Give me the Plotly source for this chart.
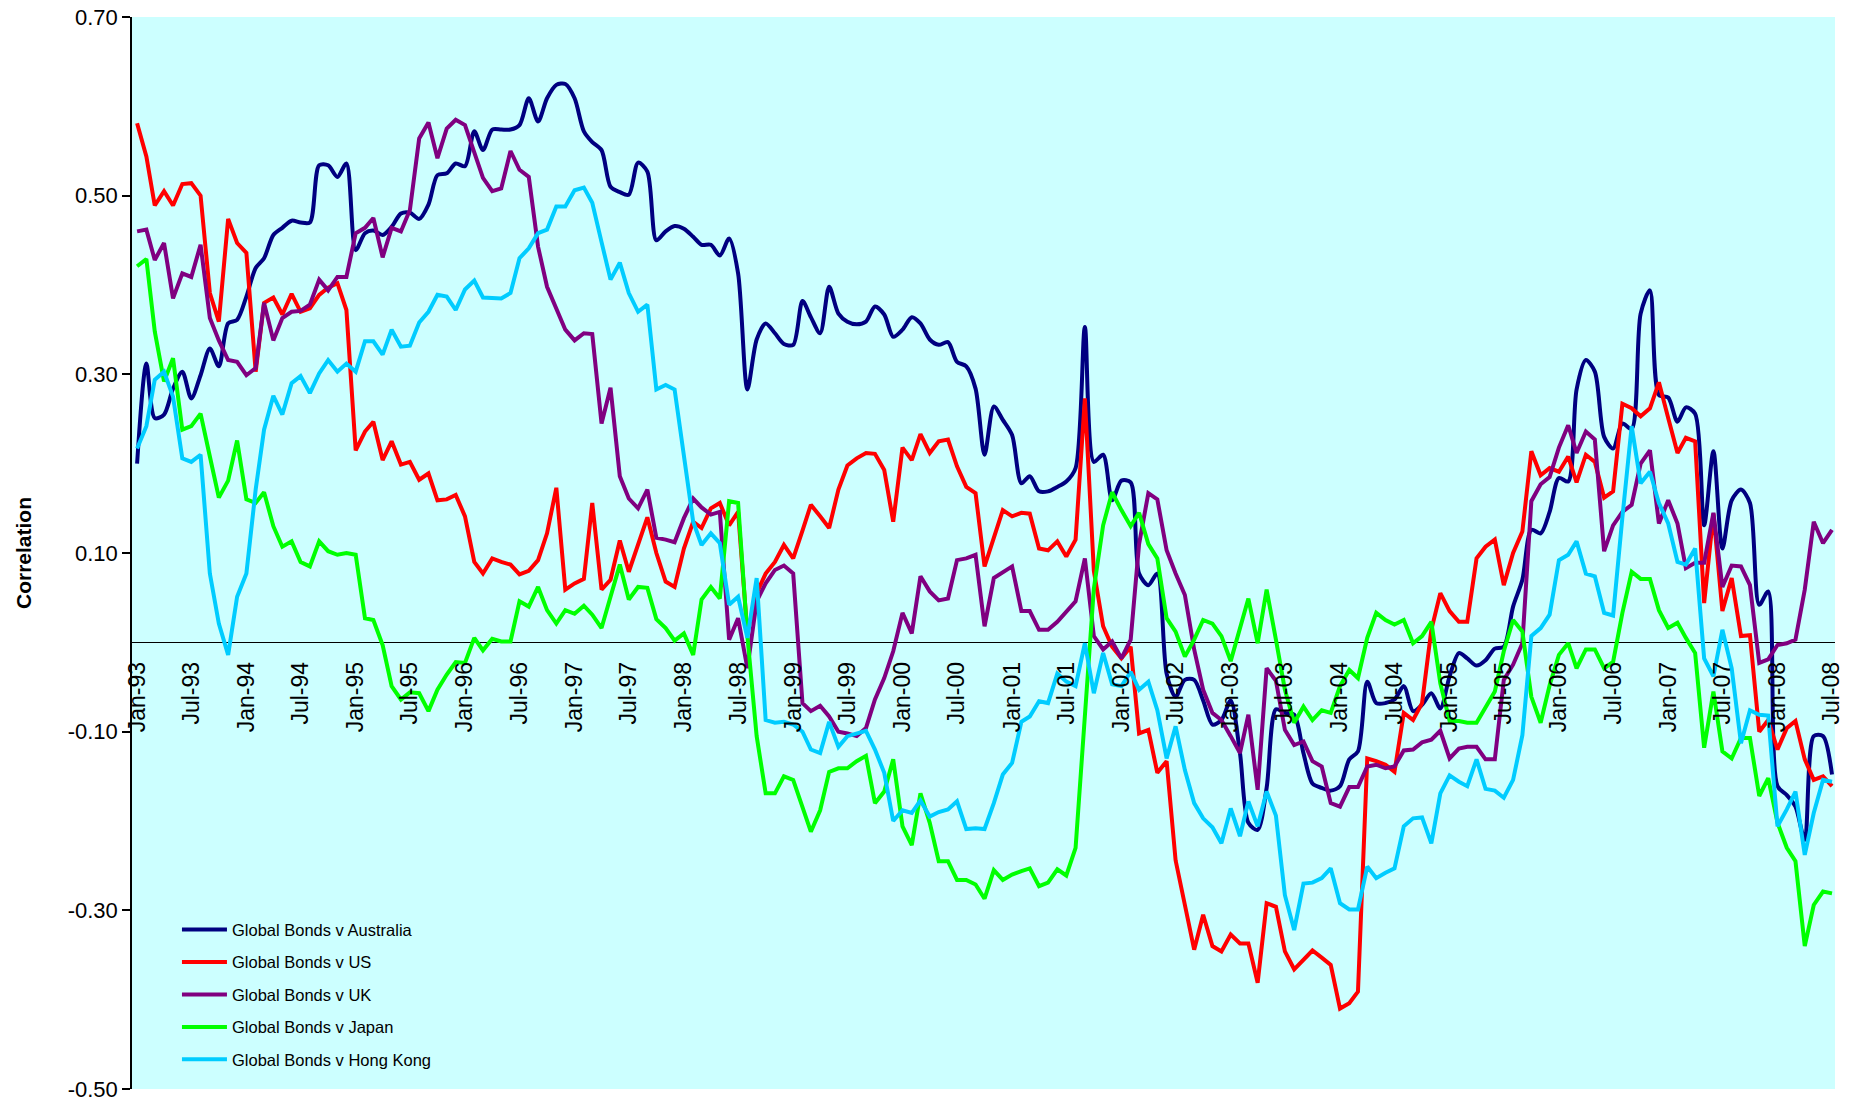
import pandas as pd
import plotly.graph_objects as go

# Monthly observations, Jan-1993 .. Jul-2008
months = pd.date_range("1993-01-01", "2008-07-01", freq="MS")

australia = [
    0.200, 0.312, 0.251, 0.255, 0.284, 0.303, 0.273, 0.299, 0.329, 0.309,
    0.357, 0.361, 0.387, 0.419, 0.430, 0.456, 0.464, 0.472, 0.470, 0.470,
    0.534, 0.534, 0.521, 0.536, 0.439, 0.458, 0.461, 0.456, 0.465, 0.480,
    0.481, 0.474, 0.490, 0.523, 0.525, 0.536, 0.533, 0.572, 0.551, 0.574,
    0.574, 0.574, 0.579, 0.609, 0.583, 0.609, 0.624, 0.625, 0.609, 0.572,
    0.560, 0.551, 0.510, 0.504, 0.501, 0.537, 0.527, 0.450, 0.460, 0.466,
    0.463, 0.454, 0.445, 0.445, 0.433, 0.452, 0.413, 0.283, 0.339, 0.357,
    0.346, 0.334, 0.333, 0.382, 0.364, 0.346, 0.398, 0.368, 0.359, 0.356,
    0.359, 0.376, 0.367, 0.342, 0.350, 0.364, 0.357, 0.339, 0.333, 0.336,
    0.314, 0.309, 0.284, 0.210, 0.264, 0.249, 0.232, 0.178, 0.186, 0.169,
    0.169, 0.174, 0.180, 0.195, 0.353, 0.202, 0.210, 0.159, 0.181, 0.179,
    0.077, 0.064, 0.077, -0.035, -0.061, -0.042, -0.042, -0.065, -0.092, -0.087,
    -0.065, -0.124, -0.202, -0.210, -0.163, -0.075, -0.079, -0.081, -0.124, -0.158,
    -0.163, -0.166, -0.161, -0.131, -0.122, -0.044, -0.068, -0.068, -0.064, -0.049,
    -0.077, -0.070, -0.057, -0.074, -0.038, -0.012, -0.018, -0.026, -0.020, -0.007,
    -0.005, 0.040, 0.070, 0.126, 0.122, 0.146, 0.184, 0.180, 0.283, 0.316,
    0.303, 0.230, 0.217, 0.245, 0.239, 0.368, 0.394, 0.277, 0.274, 0.247,
    0.263, 0.256, 0.131, 0.214, 0.105, 0.159, 0.171, 0.156, 0.042, 0.057,
    -0.161, -0.171, -0.184, -0.221, -0.105, -0.105, -0.148,
]

us = [
    0.581, 0.544, 0.489, 0.505, 0.489, 0.513, 0.514, 0.500, 0.391, 0.359,
    0.474, 0.447, 0.436, 0.303, 0.380, 0.386, 0.367, 0.390, 0.370, 0.374,
    0.389, 0.397, 0.402, 0.372, 0.215, 0.236, 0.247, 0.204, 0.225, 0.199,
    0.202, 0.182, 0.189, 0.159, 0.160, 0.165, 0.141, 0.090, 0.077, 0.094,
    0.090, 0.087, 0.076, 0.080, 0.092, 0.122, 0.173, 0.059, 0.066, 0.071,
    0.156, 0.059, 0.070, 0.114, 0.079, 0.110, 0.140, 0.100, 0.068, 0.062,
    0.105, 0.135, 0.128, 0.150, 0.156, 0.131, 0.146, 0.010, 0.055, 0.077,
    0.090, 0.109, 0.094, 0.125, 0.154, 0.141, 0.128, 0.171, 0.198, 0.206,
    0.212, 0.211, 0.193, 0.135, 0.218, 0.204, 0.233, 0.212, 0.225, 0.227,
    0.197, 0.174, 0.167, 0.085, 0.118, 0.148, 0.141, 0.145, 0.144, 0.105,
    0.103, 0.113, 0.096, 0.115, 0.273, 0.080, 0.018, -0.005, -0.018, -0.005,
    -0.102, -0.098, -0.146, -0.133, -0.244, -0.292, -0.344, -0.305, -0.340, -0.346,
    -0.327, -0.337, -0.337, -0.381, -0.292, -0.296, -0.346, -0.366, -0.355, -0.345,
    -0.353, -0.361, -0.410, -0.404, -0.391, -0.130, -0.133, -0.137, -0.145, -0.079,
    -0.087, -0.068, 0.014, 0.055, 0.035, 0.023, 0.023, 0.094, 0.107, 0.115,
    0.064, 0.100, 0.124, 0.214, 0.187, 0.195, 0.191, 0.208, 0.179, 0.210,
    0.202, 0.162, 0.169, 0.267, 0.262, 0.253, 0.262, 0.291, 0.251, 0.212,
    0.229, 0.225, 0.044, 0.144, 0.035, 0.072, 0.007, 0.008, -0.100, -0.087,
    -0.120, -0.096, -0.088, -0.131, -0.154, -0.150, -0.161,
]

uk = [
    0.460, 0.462, 0.428, 0.447, 0.385, 0.413, 0.409, 0.445, 0.363, 0.338,
    0.316, 0.314, 0.299, 0.307, 0.380, 0.338, 0.363, 0.370, 0.371, 0.378,
    0.406, 0.394, 0.409, 0.409, 0.458, 0.464, 0.475, 0.431, 0.464, 0.460,
    0.484, 0.564, 0.582, 0.542, 0.575, 0.585, 0.579, 0.547, 0.520, 0.505,
    0.508, 0.550, 0.529, 0.521, 0.443, 0.398, 0.374, 0.350, 0.338, 0.346,
    0.345, 0.245, 0.285, 0.186, 0.161, 0.150, 0.171, 0.117, 0.115, 0.112,
    0.139, 0.161, 0.151, 0.143, 0.146, 0.003, 0.027, -0.029, 0.046, 0.066,
    0.081, 0.086, 0.077, -0.068, -0.077, -0.071, -0.083, -0.100, -0.102, -0.105,
    -0.096, -0.064, -0.040, -0.010, 0.033, 0.010, 0.074, 0.057, 0.047, 0.049,
    0.092, 0.094, 0.098, 0.018, 0.072, 0.079, 0.085, 0.035, 0.035, 0.014,
    0.014, 0.023, 0.035, 0.046, 0.094, 0.007, -0.008, 0.001, -0.018, 0.003,
    0.110, 0.167, 0.160, 0.103, 0.077, 0.053, -0.008, -0.053, -0.079, -0.087,
    -0.105, -0.124, -0.081, -0.165, -0.029, -0.043, -0.098, -0.115, -0.111, -0.133,
    -0.139, -0.180, -0.184, -0.162, -0.162, -0.139, -0.137, -0.141, -0.139, -0.121,
    -0.120, -0.112, -0.109, -0.099, -0.130, -0.119, -0.117, -0.117, -0.131, -0.131,
    -0.042, -0.025, -0.001, 0.158, 0.177, 0.185, 0.218, 0.243, 0.212, 0.236,
    0.227, 0.102, 0.131, 0.146, 0.154, 0.200, 0.215, 0.133, 0.159, 0.133,
    0.083, 0.089, 0.089, 0.145, 0.062, 0.086, 0.085, 0.064, -0.023, -0.019,
    -0.003, -0.001, 0.003, 0.059, 0.135, 0.111, 0.126,
]

japan = [
    0.421, 0.429, 0.348, 0.292, 0.318, 0.238, 0.242, 0.256, 0.208, 0.162,
    0.181, 0.226, 0.160, 0.156, 0.168, 0.130, 0.107, 0.113, 0.090, 0.085,
    0.113, 0.102, 0.098, 0.100, 0.098, 0.027, 0.025, -0.003, -0.049, -0.064,
    -0.056, -0.057, -0.077, -0.053, -0.036, -0.022, -0.023, 0.005, -0.009, 0.004,
    0.001, 0.001, 0.046, 0.040, 0.062, 0.036, 0.021, 0.036, 0.032, 0.041,
    0.031, 0.016, 0.051, 0.087, 0.048, 0.062, 0.061, 0.026, 0.016, 0.002,
    0.010, -0.014, 0.048, 0.062, 0.049, 0.158, 0.156, 0.007, -0.105, -0.169,
    -0.169, -0.150, -0.154, -0.184, -0.212, -0.188, -0.145, -0.141, -0.141, -0.133,
    -0.127, -0.180, -0.167, -0.131, -0.206, -0.227, -0.169, -0.202, -0.245, -0.245,
    -0.266, -0.266, -0.271, -0.287, -0.255, -0.266, -0.260, -0.256, -0.253, -0.273,
    -0.269, -0.254, -0.261, -0.230, -0.090, 0.060, 0.131, 0.168, 0.148, 0.130,
    0.145, 0.110, 0.094, 0.027, 0.012, -0.016, 0.003, 0.025, 0.021, 0.007,
    -0.021, 0.014, 0.049, -0.001, 0.059, 0.003, -0.053, -0.090, -0.072, -0.087,
    -0.076, -0.079, -0.049, -0.031, -0.040, 0.005, 0.033, 0.025, 0.020, 0.025,
    -0.001, 0.007, 0.023, -0.046, -0.088, -0.088, -0.090, -0.090, -0.072, -0.055,
    -0.010, 0.025, 0.012, -0.061, -0.090, -0.048, -0.014, -0.001, -0.029, -0.008,
    -0.008, -0.029, -0.022, 0.033, 0.079, 0.071, 0.071, 0.036, 0.016, 0.022,
    0.005, -0.012, -0.118, -0.055, -0.122, -0.130, -0.107, -0.107, -0.172, -0.152,
    -0.202, -0.230, -0.245, -0.340, -0.294, -0.279, -0.281,
]

hong_kong = [
    0.217, 0.242, 0.294, 0.303, 0.275, 0.206, 0.202, 0.210, 0.077, 0.021,
    -0.014, 0.051, 0.077, 0.171, 0.238, 0.276, 0.255, 0.290, 0.298, 0.279,
    0.301, 0.316, 0.303, 0.312, 0.303, 0.337, 0.337, 0.322, 0.350, 0.331,
    0.332, 0.358, 0.370, 0.389, 0.387, 0.372, 0.395, 0.405, 0.386, 0.386,
    0.385, 0.391, 0.430, 0.441, 0.458, 0.462, 0.488, 0.488, 0.506, 0.509,
    0.492, 0.448, 0.406, 0.425, 0.391, 0.370, 0.378, 0.283, 0.288, 0.283,
    0.208, 0.135, 0.109, 0.122, 0.111, 0.042, 0.051, 0.005, 0.072, -0.087,
    -0.090, -0.089, -0.092, -0.100, -0.120, -0.124, -0.089, -0.117, -0.105, -0.102,
    -0.099, -0.120, -0.146, -0.200, -0.188, -0.191, -0.177, -0.195, -0.190, -0.187,
    -0.178, -0.209, -0.208, -0.209, -0.180, -0.148, -0.135, -0.089, -0.083, -0.066,
    -0.068, -0.035, -0.044, -0.049, -0.001, -0.057, -0.012, -0.047, -0.049, -0.033,
    -0.053, -0.044, -0.076, -0.130, -0.094, -0.143, -0.180, -0.197, -0.207, -0.225,
    -0.186, -0.217, -0.178, -0.206, -0.167, -0.194, -0.283, -0.322, -0.270, -0.269,
    -0.264, -0.253, -0.292, -0.299, -0.299, -0.251, -0.264, -0.258, -0.253, -0.206,
    -0.197, -0.196, -0.225, -0.169, -0.149, -0.156, -0.161, -0.131, -0.164, -0.166,
    -0.174, -0.154, -0.104, 0.007, 0.016, 0.031, 0.092, 0.098, 0.113, 0.077,
    0.074, 0.033, 0.030, 0.140, 0.242, 0.178, 0.191, 0.156, 0.133, 0.090,
    0.087, 0.105, -0.018, -0.038, 0.014, -0.029, -0.113, -0.076, -0.081, -0.082,
    -0.206, -0.187, -0.167, -0.238, -0.191, -0.154, -0.156,
]

series_names = [
    "Global Bonds v Australia",
    "Global Bonds v US",
    "Global Bonds v UK",
    "Global Bonds v Japan",
    "Global Bonds v Hong Kong",
]
series_values = [australia, us, uk, japan, hong_kong]
series_colors = ["#000080", "#FF0000", "#800080", "#00FF00", "#00CCFF"]

y_ticks = [-0.5, -0.3, -0.1, 0.1, 0.3, 0.5, 0.7]
y_tick_text = ["-0.50", "-0.30", "-0.10", "0.10", "0.30", "0.50", "0.70"]

FONT = "Arial, Liberation Sans, sans-serif"

fig = go.Figure()
for name, vals, color in zip(series_names, series_values, series_colors):
    smooth = name.endswith("Australia")
    fig.add_trace(go.Scatter(
        x=months, y=vals, name=name, mode="lines",
        legendgroup=name,
        line=dict(color=color, width=4,
                  shape="spline" if smooth else "linear",
                  smoothing=0.8 if smooth else None),
    ))

y_min, y_max = -0.5, 0.7
zero_pos = (0 - y_min) / (y_max - y_min)

fig.update_layout(
    width=1853, height=1104,
    margin=dict(l=132, r=18, t=17, b=15, autoexpand=False),
    paper_bgcolor="white",
    plot_bgcolor="#CCFFFF",
    font=dict(family=FONT, color="black"),
    showlegend=True,
    legend=dict(
        x=0.0264, y=0.1648, xanchor="left", yanchor="top",
        bgcolor="rgba(0,0,0,0)",
        font=dict(size=16.5, family=FONT, color="black"),
        itemwidth=45,
        tracegroupgap=8,
    ),
    xaxis=dict(
        type="date",
        range=["1992-12-15", "2008-07-11"],
        tick0="1993-01-01", dtick="M6",
        tickformat="%b-%y",
        tickangle=-90,
        tickfont=dict(size=23, family=FONT, color="black"),
        anchor="free", position=zero_pos,
        showgrid=False, zeroline=False, showline=False,
        ticks="", ticklabelstandoff=14,
        automargin=False,
    ),
    yaxis=dict(
        range=[y_min, y_max],
        tickvals=y_ticks, ticktext=y_tick_text,
        tickfont=dict(size=22, family=FONT, color="black"),
        showgrid=False,
        zeroline=True, zerolinecolor="black", zerolinewidth=1,
        showline=True, linecolor="black", linewidth=1.5,
        ticks="outside", ticklen=8, tickcolor="black", tickwidth=1.5,
        automargin=False,
        title=dict(text="<b>Correlation</b>",
                   font=dict(size=21, family=FONT, color="black"),
                   standoff=30),
    ),
)

fig.write_html("out.html")
